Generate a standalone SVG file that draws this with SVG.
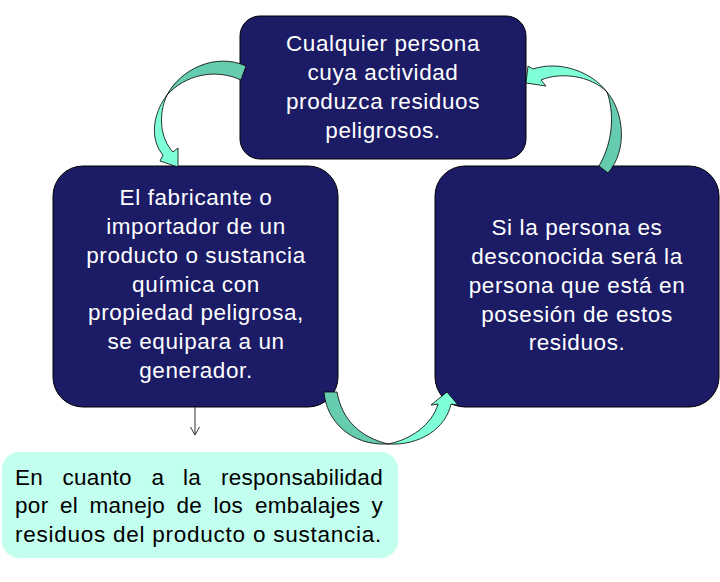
<svg xmlns="http://www.w3.org/2000/svg" width="720" height="582" viewBox="0 0 720 582">
<style>
.box{fill:#1C1B65;stroke:#000;stroke-width:1}
.wt{font-family:"Liberation Sans",Arial,sans-serif;font-size:22.5px;letter-spacing:0.6px;fill:#fff;text-anchor:middle}
.bt{font-family:"Liberation Sans",Arial,sans-serif;font-size:22.5px;letter-spacing:0.3px;fill:#000}
.end{text-anchor:end}
.dark{fill:#66CCB0;stroke:#000;stroke-width:0.8}
.light{fill:#7FFFD8;stroke:#000;stroke-width:0.8}
</style>
<rect width="720" height="582" fill="#fff"/>
<g id="node-top">
<rect class="box" x="240" y="16" width="286" height="143" rx="20"/>
<text class="wt"><tspan x="383" y="51">Cualquier persona</tspan><tspan x="383" y="80">cuya actividad</tspan><tspan x="383" y="109">produzca residuos</tspan><tspan x="383" y="138">peligrosos.</tspan></text>
</g>
<g id="node-left">
<rect class="box" x="53" y="166" width="285" height="241" rx="30"/>
<text class="wt"><tspan x="196" y="205">El fabricante o</tspan><tspan x="196" y="234">importador de un</tspan><tspan x="196" y="263">producto o sustancia</tspan><tspan x="196" y="292">química con</tspan><tspan x="196" y="320">propiedad peligrosa,</tspan><tspan x="196" y="349">se equipara a un</tspan><tspan x="196" y="378">generador.</tspan></text>
</g>
<g id="node-right">
<rect class="box" x="435" y="166" width="284" height="241" rx="30"/>
<text class="wt"><tspan x="577" y="235">Si la persona es</tspan><tspan x="577" y="264">desconocida será la</tspan><tspan x="577" y="293">persona que está en</tspan><tspan x="577" y="322">posesión de estos</tspan><tspan x="577" y="350">residuos.</tspan></text>
</g>
<g id="node-bottom">
<rect x="2" y="452" width="396" height="106" rx="17" fill="#C2FFEE"/>
<text class="bt"><tspan x="15" y="485">En</tspan><tspan x="62.5" y="485">cuanto</tspan><tspan x="151.5" y="485">a</tspan><tspan x="183" y="485">la</tspan><tspan x="15" y="513">por</tspan><tspan x="60" y="513">el</tspan><tspan x="89.5" y="513">manejo</tspan><tspan x="176.5" y="513">de</tspan><tspan x="213.5" y="513">los</tspan><tspan x="255" y="513">embalajes</tspan></text>
<text class="bt end" x="383" y="485">responsabilidad</text>
<text class="bt end" x="383" y="513">y</text>
<text class="bt" x="15" y="542" style="letter-spacing:0.75px">residuos del producto o sustancia.</text>
</g>
<g id="connectors">
<path class="dark" d="M167,95 C180,70 215,52 246,66 L241,80 C215,68 185,75 167,95 Z"/>
<path class="light" d="M167,95 C152,115 150,140 163,155 L160,161 L178,167 L178,148 L173,152 C160,138 158,115 167,95 Z"/>
<path class="dark" d="M607,92 C624,112 628,150 608,173 L599,166 C614,140 614,112 607,92 Z"/>
<path class="light" d="M607,92 C592,72 560,60 533,69 L528,66 L526,83 L546,86 L541,80 C560,72 590,75 607,92 Z"/>
<path class="dark" d="M324,392 L337,392 C342,420 360,437 388,444 C350,446 326,420 324,392 Z"/>
<path class="light" d="M388,444 C410,440 432,425 438,404 L431,405 L447,392 L458,405 L451,404 C446,428 420,446 388,444 Z"/>
<path d="M195,407 L195,435 M190.5,427 L195,435 L199.5,427" fill="none" stroke="#333" stroke-width="1"/>
</g>
</svg>
